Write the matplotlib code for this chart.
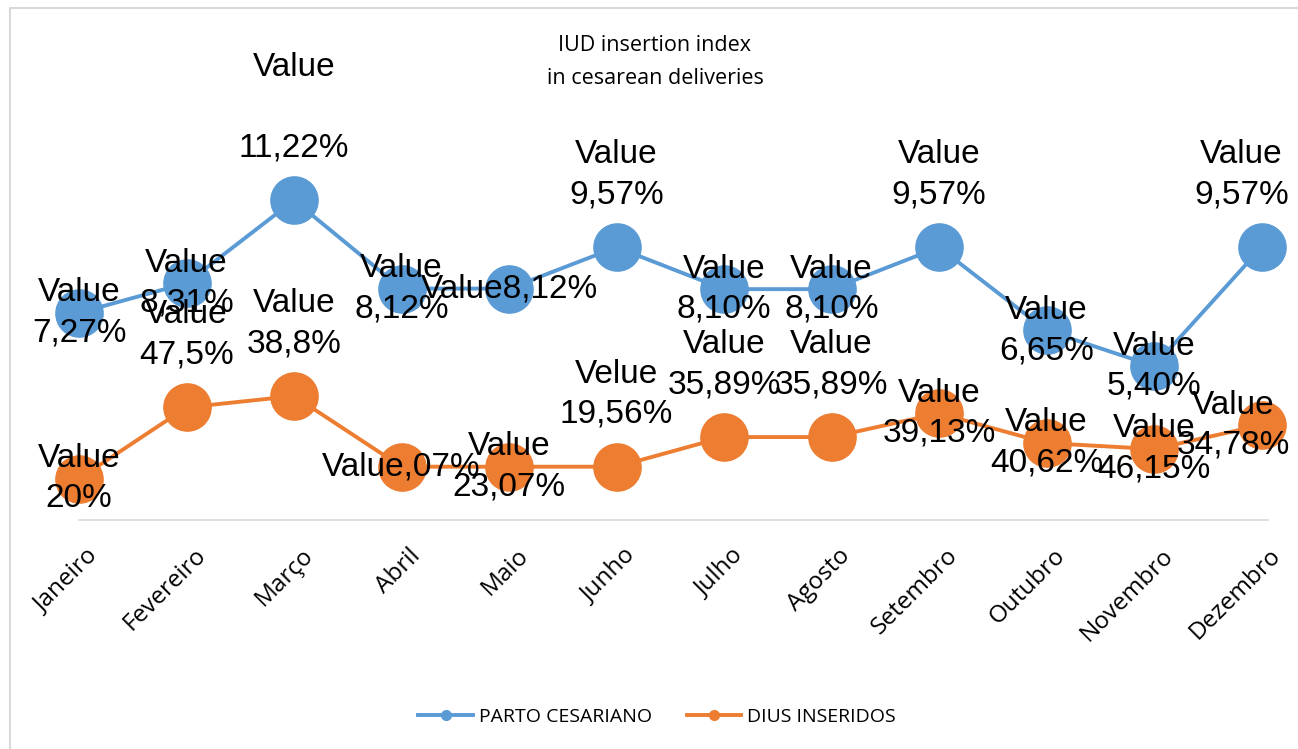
import matplotlib
matplotlib.use("Agg")
import matplotlib.pyplot as plt
from matplotlib.lines import Line2D
from matplotlib.transforms import ScaledTranslation

months = ["Janeiro", "Fevereiro", "Março", "Abril", "Maio", "Junho",
          "Julho", "Agosto", "Setembro", "Outubro", "Novembro", "Dezembro"]

# plotted values (hidden axis)
cesarean = [7.27, 8.31, 11.22, 8.12, 8.12, 9.57, 8.10, 8.10, 9.57, 6.65, 5.40, 9.57]
iud = [1.45, 3.95, 4.35, 1.87, 1.87, 1.87, 2.91, 2.91, 3.74, 2.70, 2.49, 3.33]

cesarean_labels = ["Value\n7,27%", "Value\n8,31%", "Value\n\n11,22%", "Value\n8,12%",
                   "Value8,12%", "Value\n9,57%", "Value\n8,10%", "Value\n8,10%",
                   "Value\n9,57%", "Value\n6,65%", "Value\n5,40%", "Value\n9,57%"]
iud_labels = ["Value\n20%", "Value\n47,5%", "Value\n38,8%", "Value,07%",
              "Value\n23,07%", "Velue\n19,56%", "Value\n35,89%", "Value\n35,89%",
              "Value\n39,13%", "Value\n40,62%", "Value\n46,15%", "Value\n34,78%"]

title = "IUD insertion index\nin cesarean deliveries"
series_names = ["PARTO CESARIANO", "DIUS INSERIDOS"]

BLUE = "#5B9BD5"
ORANGE = "#ED7D31"
W, H = 1298, 749

# label placement: which points get the label above the marker
above = {"ces": {2, 5, 8, 11}, "iud": {1, 2, 5, 6, 7}}
shift_x = {"ces": {11: -20}, "iud": {11: -28}}

fig = plt.figure(figsize=(W / 100, H / 100), dpi=100)
ax = fig.add_axes([79 / W, 1 - 520 / H, (1268 - 79) / W, (520 - 178) / H])

x = list(range(len(months)))
ax.plot(x, cesarean, color=BLUE, lw=2.8, marker="o", ms=34, zorder=3, clip_on=False)
ax.plot(x, iud, color=ORANGE, lw=2.8, marker="o", ms=34, zorder=3, clip_on=False)

ax.set_xlim(0.009, 11.06)
ax.set_ylim(0, 12)

lab_kw = dict(fontsize=24, family="Liberation Sans", linespacing=1.38,
              ha="center", textcoords="offset pixels", annotation_clip=False, zorder=5)
for key, vals, labs in [("ces", cesarean, cesarean_labels), ("iud", iud, iud_labels)]:
    for i, (v, t) in enumerate(zip(vals, labs)):
        dx = shift_x.get(key, {}).get(i, 0)
        if i in above[key]:
            ax.annotate(t, (i, v), xytext=(dx, 37), va="bottom", **lab_kw)
        else:
            ax.annotate(t, (i, v), xytext=(dx, 0), va="center", **lab_kw)

for s in ["top", "right", "left"]:
    ax.spines[s].set_visible(False)
ax.spines["bottom"].set_color("#D9D9D9")
ax.spines["bottom"].set_linewidth(1.2)
ax.set_yticks([])
ax.set_xticks(x)
ax.set_xticklabels(months, rotation=45, ha="right", fontsize=17.5, family="Open Sans")
ax.tick_params(axis="x", length=0, pad=17)
offset = ScaledTranslation(24 / 100, 0, fig.dpi_scale_trans)
for lbl in ax.get_xticklabels():
    lbl.set_transform(lbl.get_transform() + offset)

fig.text(655 / W, 1 - 62 / H, title, ha="center", va="center", fontsize=15.5,
         family="Open Sans", linespacing=1.75)

handles = [Line2D([], [], color=BLUE, lw=2.8, marker="o", ms=7),
           Line2D([], [], color=ORANGE, lw=2.8, marker="o", ms=7)]
fig.legend(handles, series_names, loc="center", bbox_to_anchor=(657 / W, 1 - 717 / H),
           ncol=2, frameon=False, prop={"family": "Open Sans", "size": 14},
           handlelength=2.8, handletextpad=0.3, columnspacing=1.8)

# outer chart border (top and left edges visible)
fig.add_artist(Line2D([10 / W, 10 / W, 1], [0, 1 - 8 / H, 1 - 8 / H],
                      transform=fig.transFigure, color="#D9D9D9", lw=1.5))

fig.savefig("out.png", dpi=100)
